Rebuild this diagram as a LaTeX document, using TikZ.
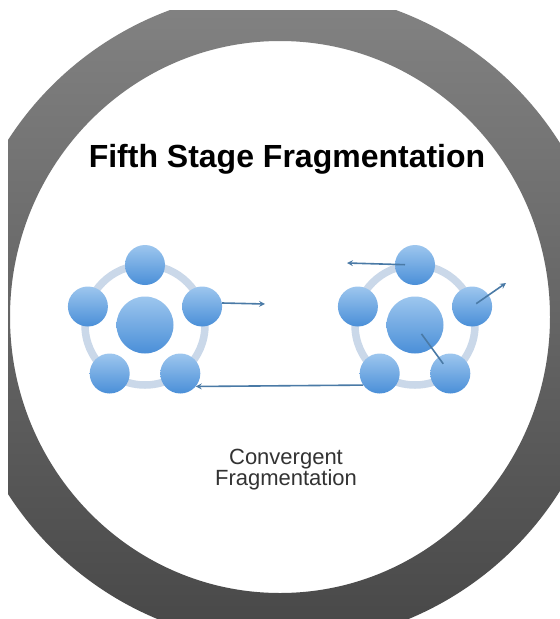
\documentclass[tikz,border=0pt]{standalone}
\usepackage{fontspec}
\setsansfont{Liberation Sans}
\usetikzlibrary{arrows}
\definecolor{ringtop}{HTML}{838383}
\definecolor{ringbot}{HTML}{474747}
\definecolor{balltop}{HTML}{9DC6EE}
\definecolor{ballbot}{HTML}{4A8FD8}
\definecolor{orbitblue}{HTML}{CAD8E9}
\definecolor{arrowblue}{HTML}{4A7AA6}
\definecolor{labelgray}{HTML}{333333}
\tikzset{
>=stealth,
satellite/.style={circle, inner sep=0pt, minimum size=40pt, top color=balltop, bottom color=ballbot},
core/.style={satellite, minimum size=57pt},
orbit/.style={draw=orbitblue, line width=7.5pt},
move/.style={->, draw=arrowblue, line width=1.6pt},
}

\begin{document}
\begin{tikzpicture}[x=1pt, y=-1pt]
        \useasboundingbox (0,0) rectangle (560,619);
        \fill[white] (0,0) rectangle (560,619);
        % outer ring, cut by the page edges
        \begin{scope}
            \clip (8,10) rectangle (560,619);
            \shade[even odd rule, top color=ringtop, bottom color=ringbot]
                (283,317) circle (327) (280,317) ellipse (270 and 276);
        \end{scope}
        \node[font=\sffamily\bfseries\fontsize{32}{38}\selectfont, anchor=base] (title) at (287,167) {Fifth Stage Fragmentation};
        % left cluster
        \draw[orbit] (145,325) circle (60);
        \node[core] (Lc) at (145,325) {};
        \node[satellite] (L1) at (145,265) {};
        \node[satellite] (L2) at (202.1,306.5) {};
        \node[satellite] (L3) at (180.3,373.5) {};
        \node[satellite] (L4) at (109.7,373.5) {};
        \node[satellite] (L5) at (87.9,306.5) {};
        % right cluster
        \draw[orbit] (415,325) circle (60);
        \node[core] (Rc) at (415,325) {};
        \node[satellite] (R1) at (415,265) {};
        \node[satellite] (R2) at (472.1,306.5) {};
        \node[satellite] (R3) at (450.3,373.5) {};
        \node[satellite] (R4) at (379.7,373.5) {};
        \node[satellite] (R5) at (357.9,306.5) {};
        \coordinate (Lout) at (265,304);
        \coordinate (Rleft) at (347,263);
        \coordinate (Rup) at (506,283);
        \draw[move] (L2.10) -- (Lout);
        \draw[move, shorten <=10pt] (R1.center) -- (Rleft);
        \draw[move, shorten <=5pt] (R2.center) -- (Rup);
        \draw[move, -, shorten <=11pt, shorten >=12pt] (Rc.center) -- (R3.center);
        \draw[move] (R4.215) -- (L3.320);
        \node[font=\sffamily\fontsize{22}{21}\selectfont, text=labelgray, align=center] (caption) at (286,470) {Convergent\\Fragmentation};
    \end{tikzpicture}
\end{document}
